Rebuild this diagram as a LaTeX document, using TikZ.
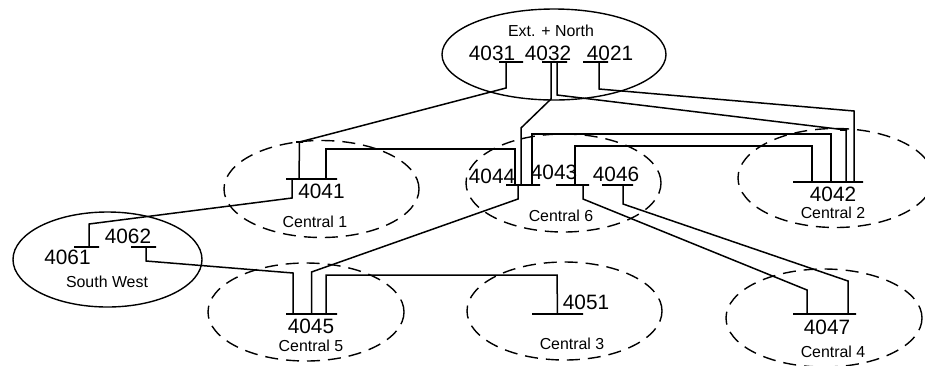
\documentclass[tikz,border=0pt]{standalone}
\usepackage{fontspec}
\setmainfont{Liberation Sans}
\usetikzlibrary{shapes.geometric}
\tikzset{
  zone/.style={ellipse,draw,line width=1.4pt,inner sep=0pt,minimum width=#1},
  zone/.default=195pt,
  dzone/.style={zone=#1,dash pattern=on 13pt off 8pt},
  dzone/.default=195pt,
  bus/.style={draw,line width=1.5pt,rectangle,inner sep=0pt,minimum height=0pt,minimum width=#1},
  link/.style={line width=1.5pt,line join=miter},
  num/.style={font=\fontsize{20.8}{22}\selectfont,inner sep=0pt},
  area/.style={font=\fontsize{15.9}{18}\selectfont,inner sep=0pt}
}
\begin{document}
\begin{tikzpicture}[x=1pt,y=-1pt]
\useasboundingbox (0,0) rectangle (925,365);
\clip (0,0) rectangle (925,365);
% zones
\node[zone=224pt,minimum height=91pt] (ext) at (554,54.5) {};
\node[zone=189pt,minimum height=95pt] (sw) at (107.5,259.5) {};
\node[dzone=195pt,minimum height=97pt] (c1) at (321.5,189) {};
\node[dzone=195pt,minimum height=98pt] (c6) at (563.5,183) {};
\node[dzone=195pt,minimum height=99pt] (c2) at (835.5,178) {};
\node[dzone=196pt,minimum height=98pt] (c5) at (306,312) {};
\node[dzone=195pt,minimum height=98pt] (c3) at (564.5,311) {};
\node[dzone=196pt,minimum height=98pt] (c4) at (824,318) {};
% buses
\node[bus=24pt] (b4031) at (511,62) {};
\node[bus=25pt] (b4032) at (554.5,62) {};
\node[bus=25pt] (b4021) at (595.5,62) {};
\node[bus=51pt] (b4041) at (311.5,179) {};
\node[bus=34pt] (b4044) at (523,185) {};
\node[bus=33pt] (b4043) at (572.5,185) {};
\node[bus=31pt] (b4046) at (617.5,185) {};
\node[bus=70pt] (b4042) at (828,182) {};
\node[bus=25pt] (b4061) at (86.5,247) {};
\node[bus=25pt] (b4062) at (143.5,247) {};
\node[bus=51pt] (b4045) at (311.5,314) {};
\node[bus=51pt] (b4051) at (557.5,314) {};
\node[bus=63pt] (b4047) at (824.5,314) {};
% ticks
\node[bus=7pt] (t1) at (299.5,142) {};
\node[bus=7pt] (t2) at (843.5,130) {};
% connectors
\draw[link] ([xshift=-5pt]b4031.center) -- (506,88) -- (t1.center) -- ([xshift=-12.5pt]b4041.center);
\draw[link] ([xshift=14.5pt]b4041.center) -- (326,149) -- (515,149) -- ([xshift=-8pt]b4044.center);
\draw[link] ([xshift=-3.5pt]b4032.center) -- (551,99) -- (521,128) -- ([xshift=-2pt]b4044.center);
\draw[link] ([xshift=9pt]b4044.center) -- (532,134) -- (831,134) -- ([xshift=3pt]b4042.center);
\draw[link] ([xshift=2.5pt]b4043.center) -- (575,146) -- (812,146) -- ([xshift=-16pt]b4042.center);
\draw[link] ([xshift=10.5pt]b4043.center) -- (583,199) -- (807,290) -- ([xshift=-17.5pt]b4047.center);
\draw[link] ([xshift=5.5pt]b4046.center) -- (623,204) -- (848,281) -- ([xshift=23.5pt]b4047.center);
\draw[link] ([xshift=-5pt]b4044.center) -- (518,199) -- (311.5,272) -- (b4045.center);
\draw[link] ([xshift=2.5pt]b4062.center) -- (146,261) -- (293,273) -- ([xshift=-18.5pt]b4045.center);
\draw[link] ([xshift=14.5pt]b4045.center) -- (326,275) -- (557,275) -- (b4051.center);
\draw[link] ([xshift=2.5pt]b4061.center) -- (89,224) -- (292,198) -- ([xshift=-19.5pt]b4041.center);
\draw[link] ([xshift=2.5pt]b4032.center) -- (557,95) -- (846,130) -- ([xshift=18pt]b4042.center);
\draw[link] ([xshift=3.5pt]b4021.center) -- (599,89) -- (854,111) -- ([xshift=26pt]b4042.center);
% labels
\node[area] (l1) at (551,31) {Ext. + North};
\node[num] (n4031) at (492,53) {4031};
\node[num] (n4032) at (548,53) {4032};
\node[num] (n4021) at (610,53) {4021};
\node[num] (n4044) at (492,176) {4044};
\node[num] (n4043) at (554,172) {4043};
\node[num] (n4046) at (616,174) {4046};
\node[area] (l2) at (561,216) {Central 6};
\node[num] (n4042) at (833,194) {4042};
\node[area] (l3) at (833,213) {Central 2};
\node[num] (n4041) at (321.5,191) {4041};
\node[area] (l4) at (315,222) {Central 1};
\node[num] (n4061) at (67.5,257) {4061};
\node[num] (n4062) at (128,236) {4062};
\node[area] (l5) at (107,282) {South West};
\node[num] (n4045) at (311,326) {4045};
\node[area] (l6) at (311,346) {Central 5};
\node[num] (n4047) at (827,327) {4047};
\node[area] (l7) at (833,352) {Central 4};
\node[num] (n4051) at (586,302) {4051};
\node[area] (l8) at (572,344) {Central 3};
\end{tikzpicture}
\end{document}
